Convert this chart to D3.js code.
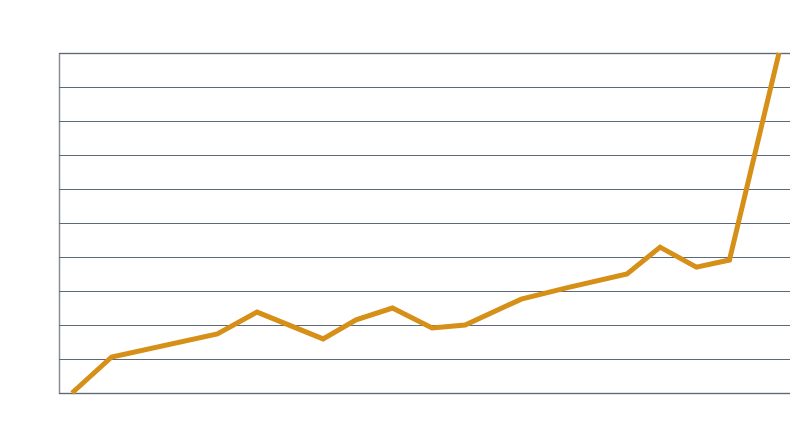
<!DOCTYPE html>
<html lang="en">
<head>
<meta charset="UTF-8">
<title>Line chart</title>
<script src="https://cdn.jsdelivr.net/npm/d3@7"></script>
<style>
  body { margin: 0; background: #fff; }
  svg { display: block; }
</style>
</head>
<body>
<script>
// x positions along the period (arbitrary units)
const xVals = [0, 1.2, 4.4, 5.6, 7.6, 8.6, 9.7, 10.9, 11.9, 13.6, 15.0, 16.8, 17.8, 18.9, 19.9, 21.4];
const yVals = [0, 1.06, 1.74, 2.38, 1.59, 2.15, 2.5, 1.91, 2.0, 2.76, 3.1, 3.5, 4.29, 3.7, 3.91, 10];
const yTicks = d3.range(0, 11);

const width = 800, height = 447;
const margin = { top: 53, right: 10, bottom: 54, left: 59 };

const svg = d3.select("body").append("svg")
  .attr("width", width)
  .attr("height", height);

const x = d3.scaleLinear()
  .domain([0, 21.4])
  .range([72, 779]);

const y = d3.scaleLinear()
  .domain([0, 10])
  .range([height - margin.bottom, margin.top]);

// gridlines
svg.append("g")
  .attr("transform", `translate(${margin.left},0)`)
  .call(d3.axisLeft(y).tickValues(yTicks).tickSize(-(width - margin.left - margin.right)).tickFormat(""))
  .call(g => g.select(".domain").attr("stroke", "#8a8e94").attr("stroke-width", 1.5))
  .call(g => g.selectAll(".tick line").attr("stroke", "#5d6878").attr("stroke-width", 1.2));

const line = d3.line()
  .x((d, i) => x(xVals[i]))
  .y(d => y(d));

svg.append("path")
  .datum(yVals)
  .attr("fill", "none")
  .attr("stroke", "#d68f17")
  .attr("stroke-width", 5)
  .attr("stroke-linejoin", "miter")
  .attr("d", line);
</script>
</body>
</html>
